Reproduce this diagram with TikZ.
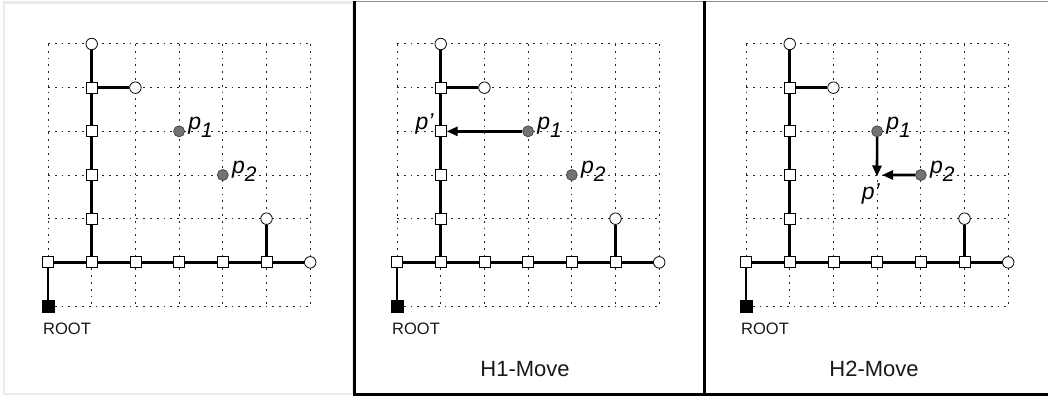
\documentclass[tikz,border=0pt]{standalone}
\usepackage{fontspec}
\setmainfont{Liberation Sans}
\usetikzlibrary{arrows.meta}
\tikzset{
 gridline/.style={line width=1pt, dash pattern=on 1.8pt off 5pt, black!85},
 edge/.style={line width=2.6pt},
 sq/.style={rectangle, draw, fill=white, line width=0.8pt, minimum size=11pt, inner sep=0pt},
 circ/.style={circle, draw, fill=white, line width=0.8pt, minimum size=11.5pt, inner sep=0pt},
 rootsq/.style={rectangle, draw, fill=black, minimum size=11.5pt, inner sep=0pt},
 dotp/.style={circle, draw=black!75, fill=black!55, minimum size=11pt, inner sep=0pt, line width=0.7pt},
 lbl/.style={inner sep=0pt, font=\fontsize{23}{23}\selectfont\itshape},
 arr/.style={line width=2.6pt, -{Triangle[length=11pt,width=9pt]}},
 plain/.style={inner sep=0pt, text=black!90},
}
\newcommand\drawpanel[2]{%
\begin{scope}[shift={(48+#1,44)}, x=43.7pt, y=-43.67pt]
 \foreach \i in {0,...,6}{
   \draw[gridline] (\i,0) -- (\i,6);
   \draw[gridline] (0,\i) -- (6,\i);
 }
 \node[circ] (t#2) at (1,0) {};
 \node[sq] (a#2) at (1,1) {};
 \node[circ] (b#2) at (2,1) {};
 \node[sq] (c#2) at (1,2) {};
 \node[sq] (d#2) at (1,3) {};
 \node[sq] (e#2) at (1,4) {};
 \node[sq] (ha#2) at (0,5) {};
 \node[sq] (hb#2) at (1,5) {};
 \node[sq] (hc#2) at (2,5) {};
 \node[sq] (hd#2) at (3,5) {};
 \node[sq] (he#2) at (4,5) {};
 \node[sq] (hf#2) at (5,5) {};
 \node[circ] (hg#2) at (6,5) {};
 \node[circ] (u#2) at (5,4) {};
 \node[rootsq] (r#2) at (0,6) {};
 \draw[edge] (r#2) -- (ha#2);
 \draw[edge] (ha#2) -- (hb#2);
 \draw[edge] (hb#2) -- (hc#2);
 \draw[edge] (hc#2) -- (hd#2);
 \draw[edge] (hd#2) -- (he#2);
 \draw[edge] (he#2) -- (hf#2);
 \draw[edge] (hf#2) -- (hg#2);
 \draw[edge] (hf#2) -- (u#2);
 \draw[edge] (hb#2) -- (e#2);
 \draw[edge] (e#2) -- (d#2);
 \draw[edge] (d#2) -- (c#2);
 \draw[edge] (c#2) -- (a#2);
 \draw[edge] (a#2) -- (t#2);
 \draw[edge] (a#2) -- (b#2);
 \node[plain, anchor=base west, font=\fontsize{16.5}{16.5}\selectfont] (rl#2) at ([shift={(-5pt,-28pt)}]r#2.center) {ROOT};
 \node[dotp] (pa#2) at (3,2) {};
 \node[dotp] (pb#2) at (4,3) {};
 \node[lbl, anchor=base west] (lpa#2) at ([shift={(9pt,2.2pt)}]pa#2.center) {p\raisebox{-8.5pt}{\fontsize{21}{21}\selectfont 1}};
 \node[lbl, anchor=base west] (lpb#2) at ([shift={(9pt,1.8pt)}]pb#2.center) {p\raisebox{-8.5pt}{\fontsize{21}{21}\selectfont 2}};
\end{scope}}
\begin{document}
\begin{tikzpicture}[x=1pt, y=-1pt]
\useasboundingbox (0,0) rectangle (1048,398);
\fill[white] (0,0) rectangle (1048,398);
% frames
\draw[draw=black!8, line width=2.5pt] (4,2.5) rectangle (353,394);
\draw[black!45, line width=1.2pt] (354,1.5) -- (1048,1.5);
\draw[line width=3pt] (354.5,1) -- (354.5,394.5) -- (1048,394.5);
\draw[line width=3pt] (704,1) -- (704,394.5);
% panels
\drawpanel{0}{a}
\drawpanel{349}{b}
\drawpanel{698}{c}
% panel 2: H1 move
\draw[arr] (pab) -- (cb);
\node[lbl, anchor=base east] (pprb) at ([shift={(-1pt,2pt)}]cb.west) {p’};
\node[plain, anchor=base, font=\fontsize{22}{22}\selectfont] (h1l) at (525,376) {H1-Move};
% panel 3: H2 move
\coordinate (xc) at (877,175);
\draw[arr, shorten >=-1.5pt] (pac) -- (xc);
\draw[arr, shorten >=5pt] (pbc) -- (xc);
\node[lbl, anchor=base east] (pprc) at ([shift={(3pt,-24pt)}]xc) {p’};
\node[plain, anchor=base, font=\fontsize{22}{22}\selectfont] (h2l) at (874,376) {H2-Move};
\end{tikzpicture}
\end{document}
